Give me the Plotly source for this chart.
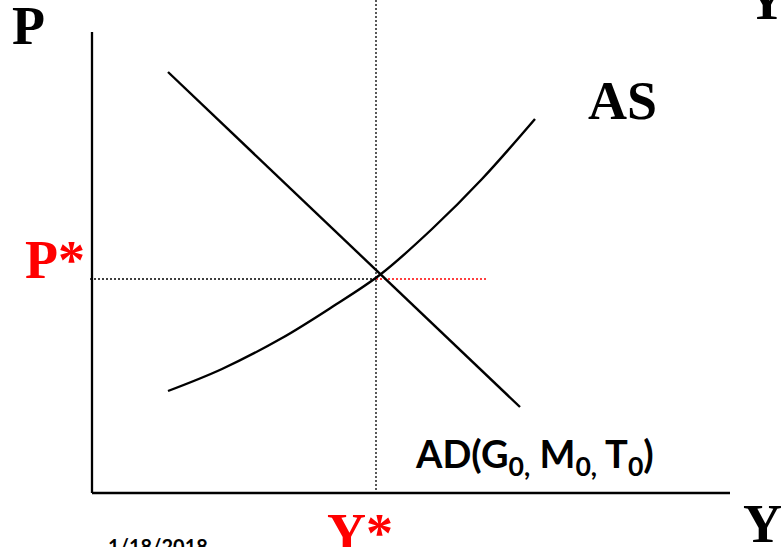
import plotly.graph_objects as go

# Output (Y) and price level (P) in diagram units; origin at the axes corner
ad_y = [76, 428]
ad_p = [421, 86]

as_y = [76, 130, 190, 240, 289, 340, 390, 443]
as_p = [102, 124, 155, 186, 219, 264, 314, 374]

y_star = 284
p_star = 214

axis_y_top = 461
axis_x_end = 638

serif = "Liberation Serif"
sans = "Lato"

fig = go.Figure()

# axes
fig.add_trace(go.Scatter(x=[0, 0], y=[axis_y_top, 0], mode="lines",
                         line=dict(color="black", width=2.3), hoverinfo="skip"))
fig.add_trace(go.Scatter(x=[0, axis_x_end], y=[0, 0], mode="lines",
                         line=dict(color="black", width=2.3), hoverinfo="skip"))

# equilibrium guides
fig.add_trace(go.Scatter(x=[y_star, y_star], y=[493, 3], mode="lines",
                         line=dict(color="black", width=1.3, dash="2px,2px"), hoverinfo="skip"))
fig.add_trace(go.Scatter(x=[-2, y_star], y=[p_star, p_star], mode="lines",
                         line=dict(color="black", width=1.5, dash="2px,2px"), hoverinfo="skip"))
fig.add_trace(go.Scatter(x=[y_star, 396], y=[p_star, p_star], mode="lines",
                         line=dict(color="red", width=1.5, dash="2px,2px"), hoverinfo="skip"))

# aggregate demand and aggregate supply
fig.add_trace(go.Scatter(x=ad_y, y=ad_p, mode="lines",
                         line=dict(color="black", width=2.4), hoverinfo="skip"))
fig.add_trace(go.Scatter(x=as_y, y=as_p, mode="lines", line_shape="spline",
                         line=dict(color="black", width=2.4), hoverinfo="skip"))

def label(text, x, y, size, color="black", family=serif):
    fig.add_annotation(x=x, y=y, text=text, showarrow=False, xanchor="center",
                       yanchor="middle", font=dict(family=family, size=size, color=color))

label("<b>P</b>", -64, 467, 54)
label("<b>Y</b>", 674, 492, 54)
label("<b>AS</b>", 530, 392, 54)
label("<b>P*</b>", -37, 233, 54, color="red")
label("<b>Y*</b>", 268, -40, 54, color="red")
label("<b>Y</b>", 670, -31, 54)
label("<b>AD(G<sub>0,</sub> M<sub>0,</sub> T<sub>0</sub>)</b>", 442, 37, 38, family=sans)
label("<b>1/18/2018</b>", 66, -53, 20, family=sans)

fig.update_layout(
    width=782, height=547,
    margin=dict(l=0, r=0, t=0, b=0),
    paper_bgcolor="white", plot_bgcolor="white",
    showlegend=False,
    xaxis=dict(range=[-92, 690], visible=False, fixedrange=True),
    yaxis=dict(range=[-54, 493], visible=False, fixedrange=True),
)

fig.write_html("out.html", config={"displayModeBar": False})
